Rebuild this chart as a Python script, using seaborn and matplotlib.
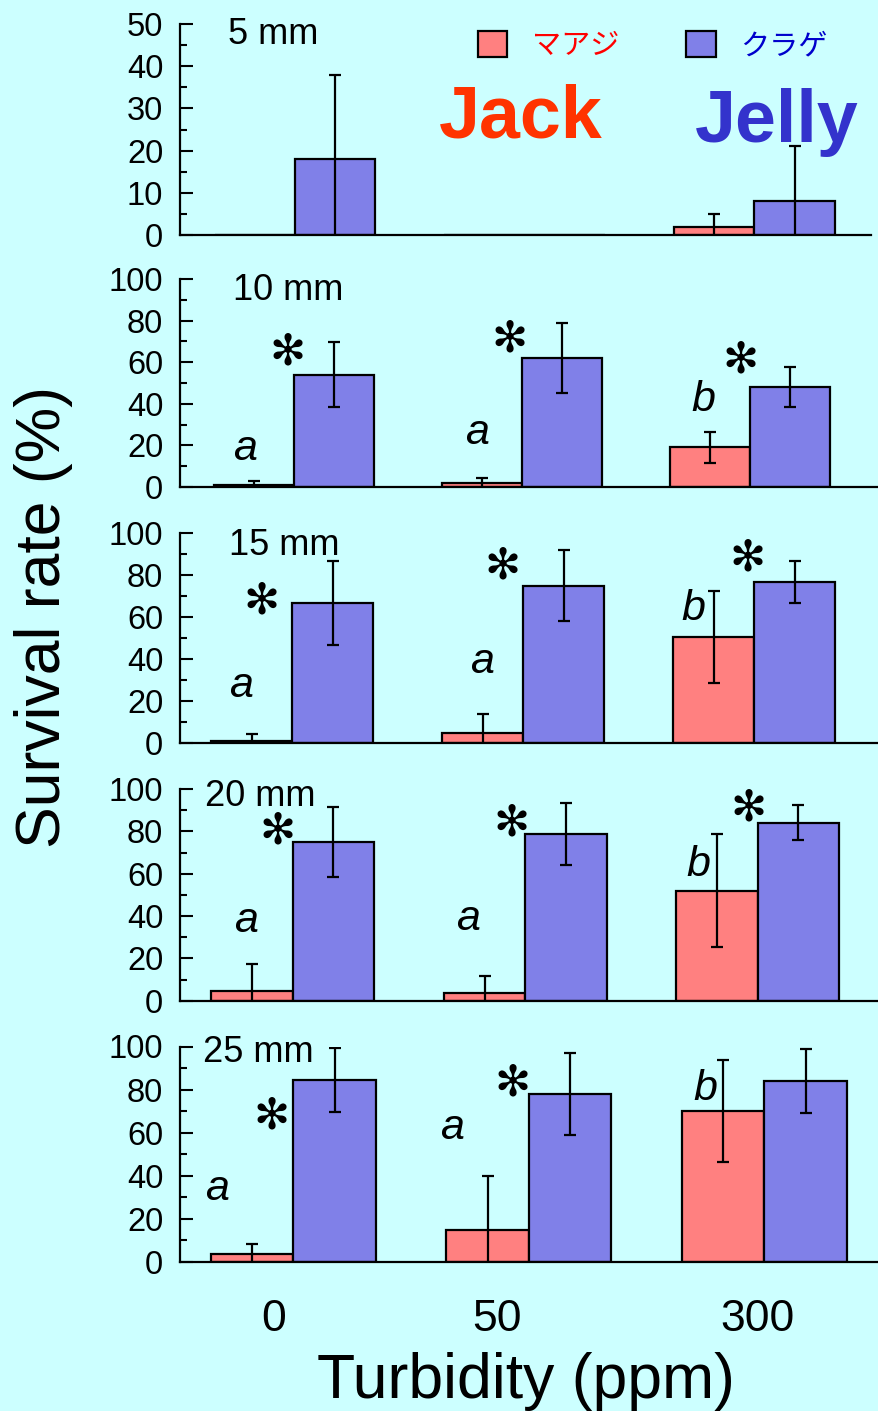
import numpy as np
import pandas as pd
import matplotlib
matplotlib.use("Agg")
import matplotlib.pyplot as plt
import seaborn as sns
from matplotlib.patches import Patch
from matplotlib.ticker import MultipleLocator, NullLocator

# ---------------- data ----------------
panels = ["5 mm", "10 mm", "15 mm", "20 mm", "25 mm"]
turbidity = ["0", "50", "300"]
species = ["マアジ", "クラゲ"]
jack_mean = [[0, 0, 2], [1, 2, 19], [1, 5, 50.5], [4.5, 3.5, 52], [3.5, 14.5, 70]]
jack_sd = [[np.nan, np.nan, 3], [2, 2.3, 7.5], [3.5, 9, 22], [12.7, 8.2, 26.6], [4.5, 25.5, 23.7]]
jelly_mean = [[18, 0, 8], [54, 62, 48], [66.6, 75, 76.8], [75, 78.6, 84.1], [84.4, 77.9, 83.9]]
jelly_sd = [[20, np.nan, 13], [15.5, 17, 9.5], [20, 17, 10], [16.4, 14.6, 8.2], [15, 19.2, 15]]
letters = [["", "", ""], ["a", "a", "b"], ["a", "a", "b"], ["a", "a", "b"], ["a", "a", "b"]]
stars = [[0, 0, 0], [1, 1, 1], [1, 1, 1], [1, 1, 1], [1, 1, 0]]
ymax = [50, 100, 100, 100, 100]

# ---------------- layout / style ----------------
W, H = 879, 1411
BG = "#CCFFFF"
JACK_C = "#FF8080"
JELLY_C = "#8080E8"
ax_top_px = [24, 279, 533, 789, 1046.5]
ax_bot_px = [235, 487, 743, 1000.7, 1261.7]
ax_right_px = [871, 879, 879, 879, 879]
ax_left_px = 180
grp0_px = [295, 294, 292.3, 292.7, 293.3]
grp_step_px = [229.7, 228, 231, 232.5, 235.5]
letter_dx = [[0, 0, 0], [-0.215, -0.197, -0.206], [-0.223, -0.18, -0.265],
             [-0.202, -0.248, -0.255], [-0.325, -0.325, -0.252]]
letter_y = [[0, 0, 0], [13.2, 20.9, 36.5], [22, 33.2, 58.5], [32.6, 33.4, 59], [28.6, 57.2, 75]]
star_dx = [[0, 0, 0], [-0.03, -0.053, -0.044], [-0.132, -0.092, -0.029],
           [-0.065, -0.057, -0.04], [-0.092, -0.068, 0]]
star_y = [[0, 0, 0], [64.7, 70.7, 61], [67.3, 84, 87.9], [79.8, 83.8, 90.9], [67.7, 82.7, 0]]
label_pos = [(0.069, 0.905), (0.076, 0.899), (0.07, 0.895), (0.036, 0.919), (0.033, 0.926)]
xtick_dx = [-0.082, -0.133, -0.027]

sns.set_style("ticks", rc={"axes.edgecolor": "black", "text.color": "black",
                           "xtick.color": "black", "ytick.color": "black",
                           "axes.labelcolor": "black"})
plt.rcParams["font.family"] = ["Liberation Sans", "Noto Sans CJK JP", "DejaVu Sans"]

rows = []
for p, pan in enumerate(panels):
    for i, t in enumerate(turbidity):
        rows.append({"panel": pan, "turbidity": t, "species": species[0], "mean": jack_mean[p][i]})
        rows.append({"panel": pan, "turbidity": t, "species": species[1], "mean": jelly_mean[p][i]})
df = pd.DataFrame(rows)
palette = {species[0]: JACK_C, species[1]: JELLY_C}

fig = plt.figure(figsize=(W / 100, H / 100), dpi=100, facecolor=BG)

for p in range(len(panels)):
    left = ax_left_px / W
    bottom = 1 - ax_bot_px[p] / H
    width = (ax_right_px[p] - ax_left_px) / W
    height = (ax_bot_px[p] - ax_top_px[p]) / H
    ax = fig.add_axes([left, bottom, width, height])
    ax.set_facecolor(BG)
    sub = df[df["panel"] == panels[p]]
    sns.barplot(data=sub, x="turbidity", y="mean", hue="species", order=turbidity,
                hue_order=species, palette=palette, width=0.7, saturation=1,
                edgecolor="black", linewidth=1.6, errorbar=None, legend=False, ax=ax)
    for k, (m, s) in enumerate([(jack_mean[p], jack_sd[p]), (jelly_mean[p], jelly_sd[p])]):
        xs = np.arange(3) + (k - 0.5) * 0.35
        ax.errorbar(xs, m, yerr=s, fmt="none", ecolor="black", elinewidth=1.6,
                    capsize=4, capthick=1.6, zorder=5)
    c0, st = grp0_px[p], grp_step_px[p]
    ax.set_xlim((ax_left_px - c0) / st, (ax_right_px[p] - c0) / st)
    ax.set_ylim(0, ymax[p])
    ax.yaxis.set_major_locator(MultipleLocator(ymax[p] / 5))
    ax.yaxis.set_minor_locator(MultipleLocator(ymax[p] / 10))
    ax.xaxis.set_minor_locator(NullLocator())
    ax.tick_params(axis="y", which="major", direction="in", length=9, width=1.5,
                   pad=12, labelsize=23.5)
    ax.tick_params(axis="y", which="minor", direction="in", length=5, width=1.5)
    ax.set_xlabel("")
    ax.set_ylabel("")
    if p < len(panels) - 1:
        ax.set_xticks([])
    else:
        ax.set_xticks(np.arange(3) + np.array(xtick_dx), turbidity)
        ax.tick_params(axis="x", length=0, pad=27, labelsize=32)
    sns.despine(ax=ax)
    for sp in ("left", "bottom"):
        ax.spines[sp].set_linewidth(1.6)
    ax.text(label_pos[p][0], label_pos[p][1], panels[p], transform=ax.transAxes,
            fontsize=26, ha="left", va="baseline")
    for i in range(3):
        if letters[p][i]:
            ax.text(i + letter_dx[p][i], letter_y[p][i], letters[p][i], fontsize=31,
                    style="italic", ha="center", va="baseline")
        if stars[p][i]:
            ax.text(i + star_dx[p][i], star_y[p][i], "✻", fontsize=31,
                    ha="center", va="center", family=["DejaVu Sans"])

# legend
handles = [Patch(facecolor=JACK_C, edgecolor="black", linewidth=1.6),
           Patch(facecolor=JELLY_C, edgecolor="black", linewidth=1.6)]
fig.legend(handles, species, ncol=2, loc="center left",
           bbox_to_anchor=(478 / W, 1 - 46 / H), frameon=False,
           prop={"family": ["Noto Sans CJK JP"], "size": 21},
           handlelength=1.0, handleheight=1.0, handletextpad=0.85,
           columnspacing=2.3, borderpad=0, borderaxespad=0,
           labelcolor=["#FF0000", "#0000CC"])

fig.text(521 / W, 1 - 138 / H, "Jack", color="#FF3300", fontsize=53,
         weight="bold", ha="center", va="baseline")
fig.text(777 / W, 1 - 142 / H, "Jelly", color="#3333CC", fontsize=53,
         weight="bold", ha="center", va="baseline")

fig.text(44 / W, 1 - 617 / H, "Survival rate (%)", rotation=90, ha="center",
         va="center", fontsize=45)
fig.text(526 / W, 1 - 1398 / H, "Turbidity (ppm)", ha="center", va="baseline",
         fontsize=45)

fig.savefig("out.png", dpi=100, facecolor=BG)
